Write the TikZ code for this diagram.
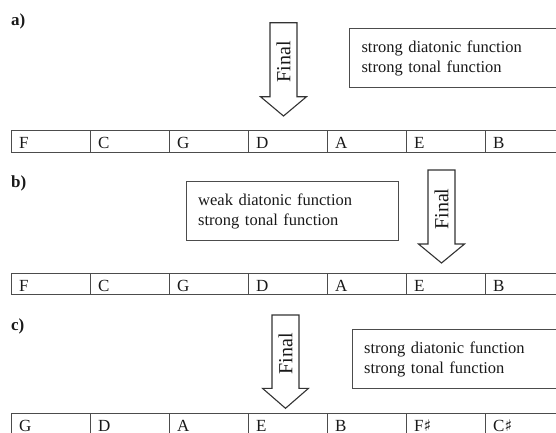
\documentclass[tikz,border=0pt]{standalone}
\usepackage{fontspec}
\setmainfont{Liberation Serif}
\newfontfamily\symfont{DejaVu Serif}
\newcommand{\shp}{{\symfont\fontsize{16}{16}\selectfont ♯}}
\newcommand{\cellrow}[3]{%
  \foreach \t [count=\i from 0] in {#3} {%
    \node[cell] (#2\i) at ({11+79*\i},#1) {};
    \node[letter] (#2t\i) at ([xshift=8pt,yshift=4pt]#2\i.south west) {\t};
  }%
}
\newcommand{\finalarrow}[5]{%
  \draw[arw] ({#1-13.5},#2) -- ({#1+13.5},#2) -- ({#1+13.5},#3) -- ({#1+23},#3)
     -- (#1,#4) -- ({#1-23},#3) -- ({#1-13.5},#3) -- cycle;
  \node[fin] (#5) at (#1,{(#2+#3)/2+2}) {Final};%
}
\begin{document}
\begin{tikzpicture}[x=1pt,y=-1pt,
  ln/.style={draw=black!70, line width=1pt},
  cell/.style={ln, minimum width=79pt, minimum height=21.5pt, inner sep=0pt, anchor=north west},
  letter/.style={text=black!90, anchor=base west, inner sep=0pt, font=\fontsize{17}{20}\selectfont},
  notebox/.style={ln, text=black!90, anchor=north west, minimum width=212pt, minimum height=59pt,
     align=left, text width=188pt, inner xsep=12pt, inner ysep=0pt, font=\fontsize{16.5}{20}\selectfont},
  arw/.style={draw=black!80, line width=1.1pt, line join=miter, fill=white},
  fin/.style={rotate=90, inner sep=0pt, text=black!90, font=\fontsize{20}{20}\selectfont},
  lab/.style={anchor=west, inner sep=0pt, text=black!90, font=\bfseries\fontsize{17}{17}\selectfont}]
\useasboundingbox (0,0) rectangle (556,432);
\clip (0,0) rectangle (556,432);

% ---- a) ----
\node[lab] (la) at (11,21) {a)};
\node[notebox] (boxa) at (349,28.3) {strong diatonic function\\strong tonal function};
\finalarrow{283.5}{22.7}{96.7}{116}{fa}
\cellrow{130}{a}{F,C,G,D,A,E,B}

% ---- b) ----
\node[lab] (lb) at (11,183) {b)};
\node[notebox] (boxb) at (185.7,181) {weak diatonic function\\strong tonal function};
\finalarrow{441.5}{170}{244}{263}{fb}
\cellrow{272.5}{b}{F,C,G,D,A,E,B}

% ---- c) ----
\node[lab] (lc) at (11,326) {c)};
\node[notebox] (boxc) at (351.7,329) {strong diatonic function\\strong tonal function};
\finalarrow{285.5}{315}{388.3}{408.3}{fc}
\cellrow{412.5}{c}{G,D,A,E,B,F\shp,C\shp}
\end{tikzpicture}
\end{document}
